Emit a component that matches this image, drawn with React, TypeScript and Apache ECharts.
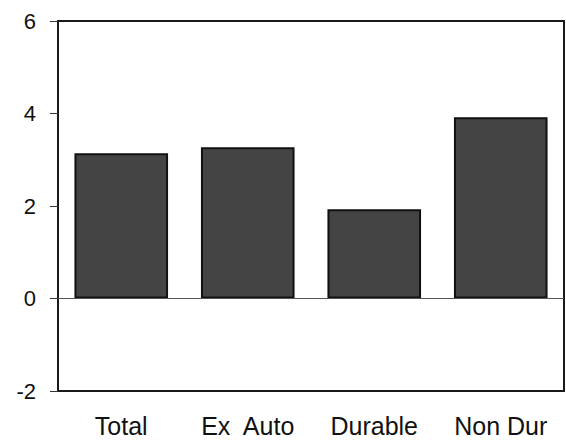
import React, { useEffect, useRef } from "react";
import * as echarts from "echarts";

const categories = ["Total", "Ex  Auto", "Durable", "Non Dur"];
const values = [3.14, 3.27, 1.93, 3.92];
const yMin = -2;
const yMax = 6;
const yInterval = 2;

export default function App() {
  const ref = useRef<HTMLDivElement>(null);
  useEffect(() => {
    if (!ref.current) return;
    const chart = echarts.init(ref.current, null, { renderer: "svg" });
    chart.setOption({
      animation: false,
      backgroundColor: "#ffffff",
      grid: {
        left: 58,
        top: 21,
        right: 2,
        bottom: 54,
        show: true,
        borderColor: "#1a1a1a",
        borderWidth: 2,
        backgroundColor: "transparent",
      },
      xAxis: {
        type: "category",
        data: categories,
        axisLine: { show: false },
        axisTick: { show: false },
        axisLabel: {
          color: "#111",
          fontFamily: "Liberation Sans",
          fontSize: 25,
          margin: 22,
        },
      },
      yAxis: {
        type: "value",
        min: yMin,
        max: yMax,
        interval: yInterval,
        axisLine: { show: true, lineStyle: { color: "#1a1a1a", width: 2 } },
        axisTick: { show: true, inside: false, length: 8, lineStyle: { color: "#333", width: 1 } },
        splitLine: { show: false },
        axisLabel: {
          color: "#111",
          fontFamily: "Liberation Sans",
          fontSize: 22,
          margin: 22,
        },
      },
      series: [
        {
          type: "bar",
          data: values,
          barWidth: "74%",
          itemStyle: { color: "#444444", borderColor: "#111", borderWidth: 2 },
          markLine: {
            silent: true,
            symbol: "none",
            label: { show: false },
            lineStyle: { color: "#555", width: 1, type: "solid" },
            data: [{ yAxis: 0 }],
          },
        },
      ],
    });
    return () => chart.dispose();
  }, []);
  return <div ref={ref} style={{ width: 566, height: 445, position: "absolute", left: 0, top: 0 }} />;
}
